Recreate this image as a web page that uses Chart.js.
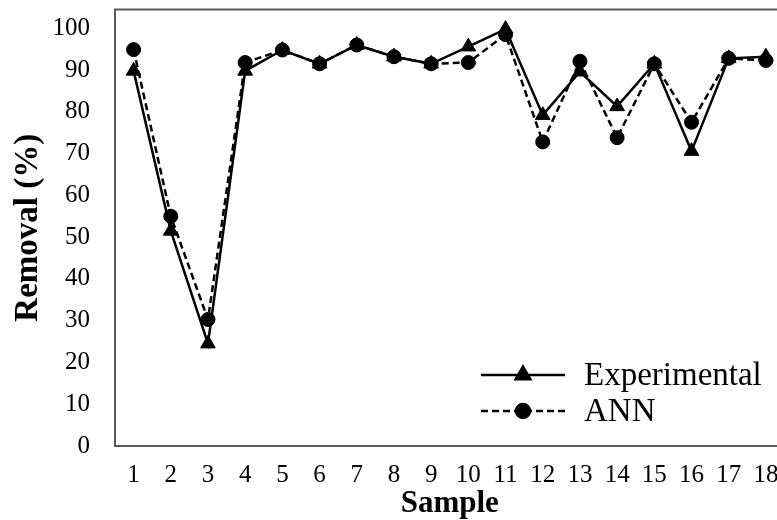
<!DOCTYPE html>
<html>
<head>
<meta charset="utf-8">
<script src="https://cdn.jsdelivr.net/npm/chart.js@4"></script>
<style>
	html, body { margin: 0; padding: 0; background: #fff; overflow: hidden; }
	#wrap { width: 794px; height: 520px; }
</style>
</head>
<body>
<div id="wrap"><canvas id="myChart" width="794" height="520"></canvas></div>
<script>
//Data

const samples = ['1', '2', '3', '4', '5', '6', '7', '8', '9', '10', '11', '12', '13', '14', '15', '16', '17', '18'];
const experimental = [89.8, 51.5, 24.5, 89.8, 94.8, 91.5, 96.0, 93.2, 91.5, 95.6, 99.8, 79.2, 89.6, 81.3, 91.5, 70.6, 92.8, 93.2];
const ann = [94.9, 55.0, 30.3, 91.8, 94.8, 91.5, 96.0, 93.2, 91.5, 91.8, 98.5, 72.8, 92.1, 73.8, 91.5, 77.5, 92.8, 92.3];
const yTicks = [0, 10, 20, 30, 40, 50, 60, 70, 80, 90, 100];

const serif = 'Liberation Serif, Times New Roman, serif';

//Plot frame

const frame = {
	id: 'frame',
	beforeDatasetsDraw(chart) {
		const a = chart.chartArea;
		const ctx = chart.ctx;
		ctx.save();
		ctx.strokeStyle = '#595959';
		ctx.lineWidth = 2;
		ctx.strokeRect(a.left, a.top, a.right - a.left, a.bottom - a.top);
		ctx.restore();
	}
};

//Legend in lower right corner (line + marker + label)

const lineLegend = {
	id: 'lineLegend',
	afterDraw(chart) {
		const ctx = chart.ctx;
		const a = chart.chartArea;
		const x0 = a.left + 366;
		const rows = [a.bottom - 71, a.bottom - 35];
		chart.data.datasets.forEach((ds, i) => {
			const y = rows[i];
			ctx.save();
			ctx.strokeStyle = '#000';
			ctx.lineWidth = ds.borderWidth;
			ctx.setLineDash(ds.borderDash || []);
			ctx.beginPath();
			ctx.moveTo(x0, y);
			ctx.lineTo(x0 + 84, y);
			ctx.stroke();
			ctx.setLineDash([]);
			ctx.fillStyle = '#000';
			Chart.helpers.drawPoint(ctx, {
				pointStyle: ds.pointStyle,
				radius: ds.pointRadius,
				borderWidth: 1
			}, x0 + 42, y);
			ctx.font = '33px ' + serif;
			ctx.textBaseline = 'middle';
			ctx.fillText(ds.label, x0 + 103, y + 1);
			ctx.restore();
		});
	}
};

const ctx = document.getElementById('myChart').getContext('2d');
const myChart = new Chart(ctx, {
	type: 'line',
	data: {
		labels: samples,
		datasets: [{
			label: 'Experimental',
			data: experimental,
			borderColor: '#000',
			backgroundColor: '#000',
			borderWidth: 2.5,
			pointStyle: 'triangle',
			pointRadius: 8.5,
			pointBorderWidth: 1,
			tension: 0,
			order: 1
		}, {
			label: 'ANN',
			data: ann,
			borderColor: '#000',
			backgroundColor: '#000',
			borderWidth: 2.5,
			borderDash: [7, 4],
			pointStyle: 'circle',
			pointRadius: 7,
			pointBorderWidth: 1,
			tension: 0,
			order: 0
		}]
	},
	options: {
		responsive: false,
		animation: false,
		devicePixelRatio: 1,
		layout: { padding: { top: 9, left: 0, right: 0, bottom: 0 } },
		plugins: {
			legend: { display: false },
			tooltip: { enabled: false }
		},
		scales: {
			x: {
				offset: true,
				grid: { display: false },
				border: { display: false },
				ticks: {
					color: '#000',
					font: { family: serif, size: 25 },
					padding: 6,
					maxRotation: 0,
					autoSkip: false
				},
				title: {
					display: true,
					text: 'Sample',
					color: '#000',
					font: { family: serif, size: 31, weight: 'bold', lineHeight: 1 },
					padding: { top: 0, bottom: 1 }
				},
				afterFit: s => {
					s.height = 74;
					s.paddingLeft = 0;
					s.paddingRight = 0;
				}
			},
			y: {
				min: 0,
				max: 104.5,
				afterBuildTicks: s => { s.ticks = yTicks.map(v => ({ value: v })); },
				grid: { display: false },
				border: { display: false },
				ticks: {
					color: '#000',
					font: { family: serif, size: 25 },
					padding: 17
				},
				title: {
					display: true,
					text: 'Removal (%)',
					color: '#000',
					font: { family: serif, size: 33, weight: 'bold', lineHeight: 1 },
					padding: { top: 12, bottom: 0 }
				},
				afterFit: s => {
					s.width = 115;
					s.paddingTop = 0;
					s.paddingBottom = 0;
				}
			}
		}
	},
	plugins: [frame, lineLegend]
});
</script>
</body>
</html>
